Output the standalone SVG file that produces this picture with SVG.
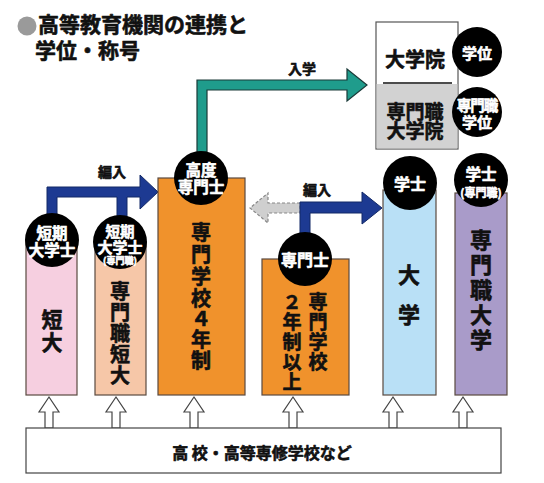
<svg xmlns="http://www.w3.org/2000/svg" width="544" height="483" viewBox="0 0 544 483">
<style>
text{font-family:"Noto Sans CJK JP","Noto Sans CJK SC",sans-serif;font-weight:bold;stroke-width:0.6;stroke-linejoin:round;}
.c{text-anchor:middle;dominant-baseline:central;}
.w{fill:#fff;stroke:#fff;}
.k{fill:#111;stroke:#111;}
.box{stroke:#5a4a40;stroke-width:1.2;}
.circ{fill:#000;}
.ha{fill:#fff;stroke:#444;stroke-width:1.2;}
.blue{fill:#1d3a92;stroke:#122866;stroke-width:1;}
</style>
<rect width="544" height="483" fill="#fff"/>
<g id="title">
<circle cx="27" cy="26" r="9.5" fill="#9a9a9a"/>
<text x="38" y="32" font-size="21" class="k">高等教育機関の連携と</text>
<text x="35" y="58" font-size="21" class="k">学位・称号</text>
</g>
<g id="connectors">
<path d="M300,203 L268,203 L268,193 L250,208 L268,223 L268,213 L300,213 Z" fill="#cfcfcf" stroke="#888" stroke-width="1.2" stroke-dasharray="3,2"/>
<path d="M197,152 L197,80 L347,80 L347,69 L367,85 L347,101 L347,90 L207,90 L207,152 Z" fill="#1f9c8c" stroke="#1a3a38" stroke-width="1.2"/>
<path class="blue" d="M47,218 L47,187 L140,187 L140,175 L158,192 L140,209 L140,197 L127,197 L127,220 L117,220 L117,197 L57,197 L57,218 Z"/>
<path class="blue" d="M300,234 L300,202 L362,202 L362,192 L382,208 L362,224 L362,213 L310,213 L310,234 Z"/>
<text x="112" y="171" font-size="14" class="c k">編入</text>
<text x="317" y="189" font-size="14" class="c k">編入</text>
<text x="302" y="68" font-size="14" class="c k">入学</text>
<g id="up-arrows">
<path class="ha" d="M45,428 L45,412 L39,412 L49,397 L59,412 L53,412 L53,428 Z"/>
<path class="ha" d="M112,428 L112,412 L106,412 L116,397 L126,412 L120,412 L120,428 Z"/>
<path class="ha" d="M190,428 L190,412 L184,412 L194,397 L204,412 L198,412 L198,428 Z"/>
<path class="ha" d="M289,428 L289,412 L283,412 L293,397 L303,412 L297,412 L297,428 Z"/>
<path class="ha" d="M389,428 L389,412 L383,412 L393,397 L403,412 L397,412 L397,428 Z"/>
<path class="ha" d="M459,428 L459,412 L453,412 L463,397 L473,412 L467,412 L467,428 Z"/>
</g>
</g>
<g id="graduate">
<rect x="376" y="22" width="82" height="127" fill="#fff" stroke="#555" stroke-width="1.2"/>
<rect x="376.6" y="84" width="80.8" height="64.4" fill="#d2d2d2"/>
<line x1="383" y1="83" x2="452" y2="83" stroke="#111" stroke-width="1.6"/>
<text x="415" y="58" font-size="20" class="c k">大学院</text>
<text x="415" y="110" font-size="19" class="c k">専門職</text>
<text x="415" y="129" font-size="19" class="c k">大学院</text>
</g>
<g id="deg-master">
<circle class="circ" cx="477" cy="52" r="25"/>
<text x="477" y="52" font-size="15" class="c w">学位</text>
</g>
<g id="deg-pro-master">
<circle class="circ" cx="477" cy="112" r="25"/>
<text x="477" y="104" font-size="14.5" class="c w" letter-spacing="-1">専門職</text>
<text x="477" y="121" font-size="15" class="c w">学位</text>
</g>
<g id="tandai">
<rect class="box" x="26" y="240" width="51" height="155" fill="#f6cfe0"/>
<text x="52" y="318" font-size="21" class="c k">短</text>
<text x="52" y="341" font-size="21" class="c k">大</text>
<circle class="circ" cx="52" cy="240" r="27"/>
<text x="52" y="232" font-size="15.5" class="c w">短期</text>
<text x="52" y="249" font-size="15.5" class="c w">大学士</text>
</g>
<g id="pro-tandai">
<rect class="box" x="95" y="242" width="51" height="153" fill="#f6c7a8"/>
<text x="120" y="290" font-size="20" class="c k">専</text>
<text x="120" y="311" font-size="20" class="c k">門</text>
<text x="120" y="332" font-size="20" class="c k">職</text>
<text x="120" y="353" font-size="20" class="c k">短</text>
<text x="120" y="374" font-size="20" class="c k">大</text>
<circle class="circ" cx="120" cy="242" r="27"/>
<text x="120" y="230" font-size="14.5" class="c w">短期</text>
<text x="120" y="246" font-size="15" class="c w">大学士</text>
<text x="120" y="260" font-size="9" class="c w" stroke-width="0.3">(専門職)</text>
</g>
<g id="senmon4">
<rect class="box" x="158" y="178" width="87" height="217" fill="#f0922c"/>
<text x="201" y="231" font-size="20" class="c k">専</text>
<text x="201" y="253" font-size="20" class="c k">門</text>
<text x="201" y="275" font-size="20" class="c k">学</text>
<text x="201" y="297" font-size="20" class="c k">校</text>
<text x="201" y="317" font-size="20" class="c k">４</text>
<text x="201" y="338" font-size="20" class="c k">年</text>
<text x="201" y="359" font-size="20" class="c k">制</text>
<circle class="circ" cx="201" cy="178" r="27"/>
<text x="201" y="169" font-size="15.5" class="c w">高度</text>
<text x="201" y="186" font-size="15.5" class="c w">専門士</text>
</g>
<g id="senmon2">
<rect class="box" x="262" y="259" width="87" height="136" fill="#f0922c"/>
<text x="318" y="300" font-size="19" class="c k">専</text>
<text x="318" y="320" font-size="19" class="c k">門</text>
<text x="318" y="340" font-size="19" class="c k">学</text>
<text x="318" y="360" font-size="19" class="c k">校</text>
<text x="292" y="300" font-size="19" class="c k">２</text>
<text x="292" y="320" font-size="19" class="c k">年</text>
<text x="292" y="340" font-size="19" class="c k">制</text>
<text x="292" y="360" font-size="19" class="c k">以</text>
<text x="292" y="380" font-size="19" class="c k">上</text>
<circle class="circ" cx="305" cy="259" r="27"/>
<text x="305" y="259" font-size="16" class="c w">専門士</text>
</g>
<g id="daigaku">
<rect class="box" x="383" y="190" width="53" height="205" fill="#b9e0f6"/>
<text x="409" y="273" font-size="22" class="c k">大</text>
<text x="409" y="313" font-size="22" class="c k">学</text>
<circle class="circ" cx="410" cy="183" r="27"/>
<text x="410" y="183" font-size="16" class="c w">学士</text>
</g>
<g id="pro-daigaku">
<rect class="box" x="455" y="193" width="52" height="202" fill="#a99bc9"/>
<text x="481" y="238" font-size="22" class="c k">専</text>
<text x="481" y="263" font-size="22" class="c k">門</text>
<text x="481" y="288" font-size="22" class="c k">職</text>
<text x="481" y="313" font-size="22" class="c k">大</text>
<text x="481" y="338" font-size="22" class="c k">学</text>
<circle class="circ" cx="481" cy="180" r="27"/>
<text x="481" y="173" font-size="15.5" class="c w">学士</text>
<text x="481" y="192" font-size="11" class="c w" stroke-width="0.4">(専門職)</text>
</g>
<g id="highschool">
<rect x="26" y="428" width="475" height="45" fill="#fff" stroke="#444" stroke-width="1.2"/>
<text x="262" y="452" font-size="16" class="c k">高 校・高等専修学校など</text>
</g>
</svg>
